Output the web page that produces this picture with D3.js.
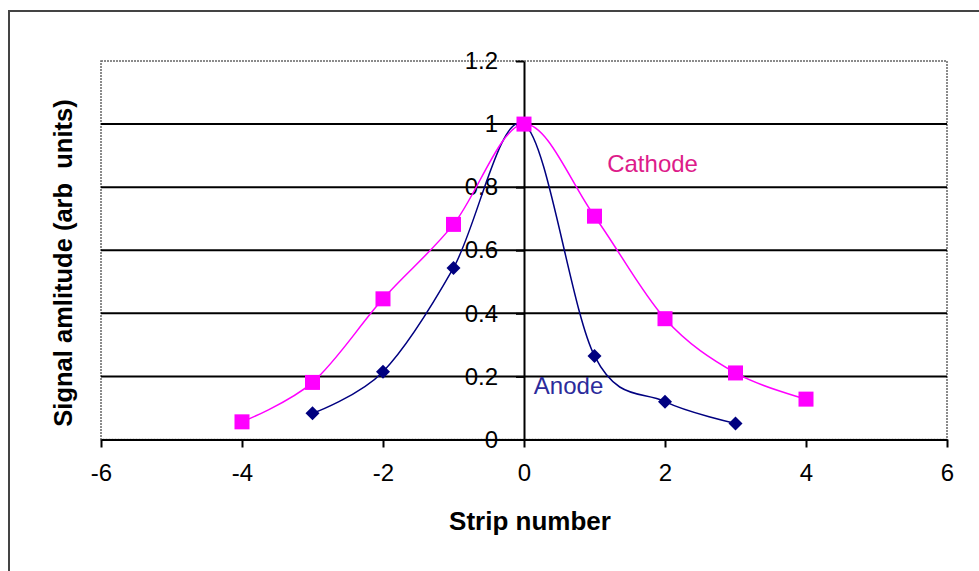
<!DOCTYPE html>
<html lang="en">
<head>
    <meta charset="UTF-8">
    <title>Signal amplitude vs strip number</title>
    <script src="https://cdn.jsdelivr.net/npm/d3@7"></script>
    <style>
        body{
            margin: 0;
            background-color: #ffffff;
            font-family: "Liberation Sans", Arial, sans-serif;
        }
        .tick text{
            font-family: "Liberation Sans", Arial, sans-serif;
            font-size: 24px;
            fill: #000000;
        }
    </style>
</head>
<body>
<div id="chart"></div>
<script>
    var WIDTH = 979;
    var HEIGHT = 571;

    // data
    var CATHODE_STRIPS = [-4, -3, -2, -1, 0, 1, 2, 3, 4];
    var CATHODE_VALUES = [0.056, 0.181, 0.446, 0.682, 1.0, 0.708, 0.383, 0.211, 0.128];
    var ANODE_STRIPS = [-3, -2, -1, 0, 1, 2, 3];
    var ANODE_VALUES = [0.083, 0.215, 0.544, 1.0, 0.265, 0.12, 0.051];

    var X_TICKS = [-6, -4, -2, 0, 2, 4, 6];
    var X_TICK_LABELS = ["-6", "-4", "-2", "0", "2", "4", "6"];
    var Y_TICKS = [0, 0.2, 0.4, 0.6, 0.8, 1, 1.2];
    var Y_TICK_LABELS = ["0", "0.2", "0.4", "0.6", "0.8", "1", "1.2"];

    var CATHODE_COLOR = "#ff00ff";
    var ANODE_COLOR = "#000080";

    var PLOT_LEFT = 101, PLOT_RIGHT = 947, PLOT_TOP = 61, PLOT_BOTTOM = 439.5;

    var svg = d3.select("#chart").append("svg")
        .attr("width", WIDTH)
        .attr("height", HEIGHT);

    // outer chart frame (runs past the bottom/right of the picture)
    svg.append("rect")
        .attr("x", 9).attr("y", 11)
        .attr("width", 1000).attr("height", 1000)
        .style("fill", "none")
        .style("stroke", "#444444")
        .style("stroke-width", 2);

    var x = d3.scaleLinear().domain([-6, 6]).range([PLOT_LEFT, PLOT_RIGHT]);
    var y = d3.scaleLinear().domain([0, 1.2]).range([PLOT_BOTTOM, PLOT_TOP]);

    // plot area border
    svg.append("rect")
        .attr("x", PLOT_LEFT).attr("y", PLOT_TOP)
        .attr("width", PLOT_RIGHT - PLOT_LEFT)
        .attr("height", PLOT_BOTTOM - PLOT_TOP)
        .style("fill", "none")
        .style("stroke", "#666666")
        .style("stroke-width", 1.5)
        .style("stroke-dasharray", "2,1");

    // gridlines
    svg.append("g").selectAll("line")
        .data(Y_TICKS.filter(function(d){ return d > 0 && d < 1.2; }))
        .enter().append("line")
        .attr("x1", PLOT_LEFT).attr("x2", PLOT_RIGHT)
        .attr("y1", function(d){ return y(d); })
        .attr("y2", function(d){ return y(d); })
        .style("stroke", "#000000")
        .style("stroke-width", 2);

    // x axis along y = 0
    var xAxis = svg.append("g")
        .attr("transform", "translate(0," + y(0) + ")")
        .call(d3.axisBottom(x).tickValues(X_TICKS).tickSize(8).tickPadding(16).tickSizeOuter(0)
            .tickFormat(function(d, i){ return X_TICK_LABELS[i]; }));
    xAxis.select(".domain").style("stroke-width", 2);
    xAxis.selectAll(".tick line").style("stroke-width", 2);

    // y axis along x = 0
    var yAxis = svg.append("g")
        .attr("transform", "translate(" + x(0) + ",0)")
        .call(d3.axisLeft(y).tickValues(Y_TICKS).tickSize(8).tickPadding(18).tickSizeOuter(0)
            .tickFormat(function(d, i){ return Y_TICK_LABELS[i]; }));
    yAxis.select(".domain").style("stroke-width", 2);
    yAxis.selectAll(".tick line").style("stroke-width", 2);

    var line = d3.line()
        .x(function(d){ return x(d[0]); })
        .y(function(d){ return y(d[1]); })
        .curve(d3.curveCardinal.tension(0));

    var anode = d3.zip(ANODE_STRIPS, ANODE_VALUES);
    var cathode = d3.zip(CATHODE_STRIPS, CATHODE_VALUES);

    svg.append("path")
        .datum(anode)
        .attr("d", line)
        .style("fill", "none")
        .style("stroke", ANODE_COLOR)
        .style("stroke-width", 1.5);

    svg.append("g").selectAll("path")
        .data(anode)
        .enter().append("path")
        .attr("d", d3.symbol().type(d3.symbolSquare).size(98))
        .attr("transform", function(d){
            return "translate(" + x(d[0]) + "," + y(d[1]) + ") rotate(45)";
        })
        .style("fill", ANODE_COLOR);

    svg.append("path")
        .datum(cathode)
        .attr("d", line)
        .style("fill", "none")
        .style("stroke", CATHODE_COLOR)
        .style("stroke-width", 1.5);

    svg.append("g").selectAll("rect")
        .data(cathode)
        .enter().append("rect")
        .attr("x", function(d){ return x(d[0]) - 7.5; })
        .attr("y", function(d){ return y(d[1]) - 7.5; })
        .attr("width", 15)
        .attr("height", 15)
        .style("fill", CATHODE_COLOR);

    // series labels
    svg.append("text")
        .text("Cathode")
        .attr("x", x(1.18))
        .attr("y", y(0.847))
        .style("fill", "#dd1c8a")
        .style("font-size", "24px");

    svg.append("text")
        .text("Anode")
        .attr("x", x(0.14))
        .attr("y", y(0.145))
        .style("fill", "#2b2b9b")
        .style("font-size", "24px");

    // axis titles
    svg.append("text")
        .text("Strip number")
        .attr("x", 530)
        .attr("y", 530)
        .attr("text-anchor", "middle")
        .style("font-weight", "bold")
        .style("font-size", "26px");

    svg.append("text")
        .text("Signal amlitude (arb  units)")
        .attr("text-anchor", "middle")
        .attr("transform", "translate(72,263) rotate(-90)")
        .style("font-weight", "bold")
        .style("font-size", "25.5px")
        .style("white-space", "pre");
</script>
</body>
</html>
